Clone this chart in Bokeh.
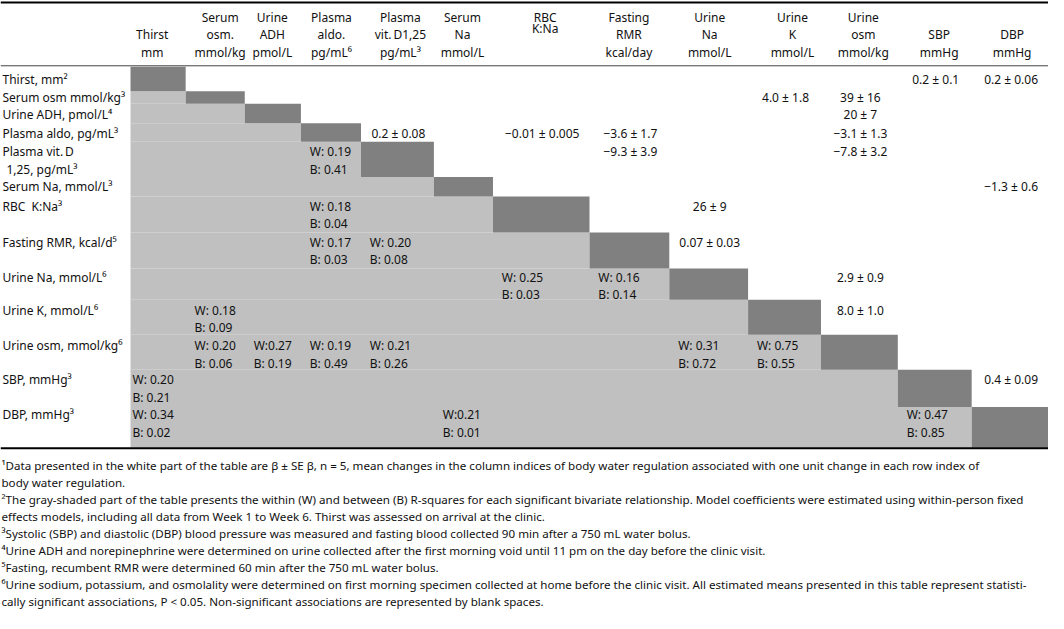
from bokeh.plotting import figure
from bokeh.models import ColumnDataSource, Range1d
from bokeh.core.properties import value
from bokeh.embed import file_html
from bokeh.resources import INLINE

# ---------------- data ----------------
row_labels = [
    ["Thirst, mm\u00b2"],
    ["Serum osm mmol/kg\u00b3"],
    ["Urine ADH, pmol/L\u2074"],
    ["Plasma aldo, pg/mL\u00b3"],
    ["Plasma vit.\u2009D", "1,25, pg/mL\u00b3"],
    ["Serum Na, mmol/L\u00b3"],
    ["RBC\u00a0 K:Na\u00b3"],
    ["Fasting RMR, kcal/d\u2075"],
    ["Urine Na, mmol/L\u2076"],
    ["Urine K, mmol/L\u2076"],
    ["Urine osm, mmol/kg\u2076"],
    ["SBP, mmHg\u00b3"],
    ["DBP, mmHg\u00b3"],
]

col_headers = [
    ["", "Thirst", "mm"],
    ["Serum", "osm.", "mmol/kg"],
    ["Urine", "ADH", "pmol/L"],
    ["Plasma", "aldo.", "pg/mL\u2076"],
    ["Plasma", "vit.\u2009D1,25", "pg/mL\u00b3"],
    ["Serum", "Na", "mmol/L"],
    ["RBC", "K:Na"],
    ["Fasting", "RMR", "kcal/day"],
    ["Urine", "Na", "mmol/L"],
    ["Urine", "K", "mmol/L"],
    ["Urine", "osm", "mmol/kg"],
    ["", "SBP", "mmHg"],
    ["", "DBP", "mmHg"],
]

# beta +/- SE (upper, white part): row index, column index, text
beta_row = [0, 0, 1, 1, 2, 3, 3, 3, 3, 4, 4, 5, 6, 7, 8, 9, 11]
beta_col = [11, 12, 9, 10, 10, 4, 6, 7, 10, 7, 10, 12, 8, 8, 10, 10, 12]
beta_txt = ["0.2 \u00b1 0.1", "0.2 \u00b1 0.06", "4.0 \u00b1 1.8", "39 \u00b1 16",
            "20 \u00b1 7", "0.2 \u00b1 0.08", "\u22120.01 \u00b1 0.005",
            "\u22123.6 \u00b1 1.7", "\u22123.1 \u00b1 1.3", "\u22129.3 \u00b1 3.9",
            "\u22127.8 \u00b1 3.2", "\u22121.3 \u00b1 0.6", "26 \u00b1 9",
            "0.07 \u00b1 0.03", "2.9 \u00b1 0.9", "8.0 \u00b1 1.0", "0.4 \u00b1 0.09"]

# R-squares (gray part): row, column, within, between
r2_row = [4, 6, 7, 7, 8, 8, 9, 10, 10, 10, 10, 10, 10, 11, 12, 12, 12]
r2_col = [3, 3, 3, 4, 6, 7, 1, 1, 2, 3, 4, 8, 9, 0, 0, 5, 11]
r2_w = ["W: 0.19", "W: 0.18", "W: 0.17", "W: 0.20", "W: 0.25", "W: 0.16",
        "W: 0.18", "W: 0.20", "W:0.27", "W: 0.19", "W: 0.21", "W: 0.31",
        "W: 0.75", "W: 0.20", "W: 0.34", "W:0.21", "W: 0.47"]
r2_b = ["B: 0.41", "B: 0.04", "B: 0.03", "B: 0.08", "B: 0.03", "B: 0.14",
        "B: 0.09", "B: 0.06", "B: 0.19", "B: 0.49", "B: 0.26", "B: 0.72",
        "B: 0.55", "B: 0.21", "B: 0.02", "B: 0.01", "B: 0.85"]

footnotes = [
    "\u00b9Data presented in the white part of the table are \u03b2 \u00b1 SE \u03b2, n = 5, mean changes in the column indices of body water regulation associated with one unit change in each row index of",
    "body water regulation.",
    "\u00b2The gray-shaded part of the table presents the within (W) and between (B) R-squares for each significant bivariate relationship. Model coefficients were estimated using within-person fixed",
    "effects models, including all data from Week 1 to Week 6. Thirst was assessed on arrival at the clinic.",
    "\u00b3Systolic (SBP) and diastolic (DBP) blood pressure was measured and fasting blood collected 90 min after a 750 mL water bolus.",
    "\u2074Urine ADH and norepinephrine were determined on urine collected after the first morning void until 11 pm on the day before the clinic visit.",
    "\u2075Fasting, recumbent RMR were determined 60 min after the 750 mL water bolus.",
    "\u2076Urine sodium, potassium, and osmolality were determined on first morning specimen collected at home before the clinic visit. All estimated means presented in this table represent statisti-",
    "cally significant associations, P < 0.05. Non-significant associations are represented by blank spaces.",
]

# ---------------- layout (reference pixel grid) ----------------
W_REF, H_REF = 1064, 629
col_edges = [132, 188, 248, 305, 366, 440, 500, 598, 679, 759, 833, 911, 986, 1064]
head_cx = [154, 223, 276, 336, 406, 469, 553, 638, 720, 804, 876, 953, 1027]
row_edges = [68, 93, 106, 126, 145, 181, 201, 238, 275, 307, 343, 379, 417, 459]
row_line1 = [81, 100, 117, 136, 155, 191, 211, 248, 284, 318, 354, 389, 425]
LINE = 18
head_y = [17, 35, 53]
FONT = value("Noto Sans")
FS = "12px"
FS_NOTE = "11.6px"
TXT = "#111111"

p = figure(width=1048, height=613, x_range=Range1d(0, W_REF), y_range=Range1d(H_REF, 0),
           output_backend="svg", toolbar_location=None, min_border=0)
p.axis.visible = False
p.grid.visible = False
p.outline_line_color = None
p.background_fill_color = "white"
p.border_fill_color = "white"

n = len(row_labels)
# light gray lower part
lq = dict(left=[], right=[], top=[], bottom=[])
for i in range(1, n):
    lq["left"].append(col_edges[0]); lq["right"].append(col_edges[i])
    lq["top"].append(row_edges[i]); lq["bottom"].append(row_edges[i + 1])
p.quad(source=ColumnDataSource(lq), left="left", right="right", top="top", bottom="bottom",
       fill_color="#c0c0c0", line_color=None)
# dark diagonal
dq = dict(left=col_edges[:-1], right=col_edges[1:], top=row_edges[:-1], bottom=row_edges[1:])
p.quad(source=ColumnDataSource(dq), left="left", right="right", top="top", bottom="bottom",
       fill_color="#808080", line_color=None)

# rules
p.segment(x0=[0], y0=[2], x1=[W_REF], y1=[2], line_color="black", line_width=2)
p.segment(x0=[0], y0=[67], x1=[W_REF], y1=[67], line_color="#444444", line_width=1)
p.segment(x0=[0], y0=[459.5], x1=[W_REF], y1=[459.5], line_color="black", line_width=2)

def add_text(xs, ys, texts, align, size=FS):
    p.text(x=xs, y=ys, text=texts, text_font=FONT, text_font_size=size, text_color=TXT,
           text_align=align, text_baseline="middle")

# header
hx, hy, ht = [], [], []
for j, lines in enumerate(col_headers):
    ys = head_y if len(lines) == 3 else [17, 28.5]
    for k, t in enumerate(lines):
        if t:
            hx.append(head_cx[j]); hy.append(ys[k]); ht.append(t)
add_text(hx, hy, ht, "center")

# row labels (continuation lines slightly indented)
lx, ly, lt = [], [], []
for i, lines in enumerate(row_labels):
    for k, t in enumerate(lines):
        lx.append(2 if k == 0 else 6); ly.append(row_line1[i] + k * LINE); lt.append(t)
add_text(lx, ly, lt, "left")

# beta values (centered in column)
bx = [(col_edges[c] + col_edges[c + 1]) / 2 + 1 for c in beta_col]
by = [row_line1[r] for r in beta_row]
add_text(bx, by, beta_txt, "center")

# R-squares
rx = [col_edges[c] + (2 if c == 0 else 9) for c in r2_col]
ry = [row_line1[r] for r in r2_row]
add_text(rx, ry, r2_w, "left")
add_text(rx, [y + LINE for y in ry], r2_b, "left")

# footnotes
fy = [477 + 17.5 * k for k in range(len(footnotes))]
add_text([1] * len(footnotes), fy, footnotes, "left", FS_NOTE)

open("out.html", "w").write(file_html(p, INLINE))
